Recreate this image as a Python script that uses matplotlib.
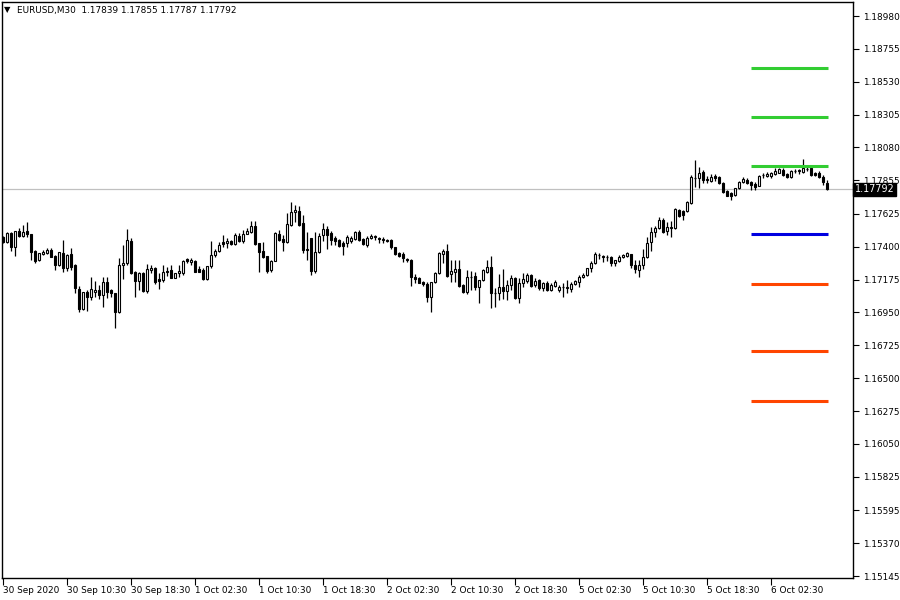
import matplotlib
matplotlib.use("Agg")
import matplotlib.pyplot as plt
from matplotlib.patches import Rectangle

# EURUSD M30 candles, 30 Sep 2020 .. 6 Oct 2020
opens = [
    1.17467, 1.17433, 1.17494, 1.17398, 1.17508, 1.17474, 1.17508, 1.17487, 1.17371, 1.17309,
    1.17350, 1.17357, 1.17378, 1.17337, 1.17275, 1.17357, 1.17255, 1.17350, 1.17275, 1.17111,
    1.16974, 1.17090, 1.17056, 1.17090, 1.17104, 1.17070, 1.17159, 1.17104, 1.17083, 1.16953,
    1.17275, 1.17289, 1.17439, 1.17227, 1.17165, 1.17221, 1.17097, 1.17241, 1.17255, 1.17180,
    1.17172, 1.17234, 1.17241, 1.17186, 1.17221, 1.17221, 1.17316, 1.17296, 1.17303, 1.17248,
    1.17241, 1.17180, 1.17268, 1.17344, 1.17371, 1.17433, 1.17426, 1.17439, 1.17419, 1.17474,
    1.17439, 1.17487, 1.17501, 1.17542, 1.17426, 1.17371, 1.17337, 1.17241, 1.17303, 1.17487,
    1.17453, 1.17433, 1.17549, 1.17638, 1.17645, 1.17563, 1.17385, 1.17460, 1.17234, 1.17364,
    1.17480, 1.17521, 1.17494, 1.17460, 1.17446, 1.17426, 1.17426, 1.17439, 1.17453, 1.17501,
    1.17453, 1.17412, 1.17460, 1.17467, 1.17460, 1.17453, 1.17446, 1.17446, 1.17398, 1.17357,
    1.17350, 1.17316, 1.17309, 1.17193, 1.17186, 1.17159, 1.17145, 1.17056, 1.17159, 1.17221,
    1.17350, 1.17371, 1.17214, 1.17227, 1.17248, 1.17138, 1.17090, 1.17193, 1.17200, 1.17124,
    1.17172, 1.17227, 1.17262, 1.17083, 1.17083, 1.17124, 1.17097, 1.17138, 1.17186, 1.17049,
    1.17152, 1.17165, 1.17207, 1.17138, 1.17172, 1.17118, 1.17152, 1.17104, 1.17131, 1.17104,
    1.17124, 1.17118, 1.17111, 1.17145, 1.17159, 1.17193, 1.17207, 1.17255, 1.17289, 1.17344,
    1.17337, 1.17330, 1.17330, 1.17289, 1.17303, 1.17330, 1.17337, 1.17350, 1.17275, 1.17241,
    1.17275, 1.17330, 1.17433, 1.17501, 1.17528, 1.17583, 1.17508, 1.17528, 1.17528, 1.17652,
    1.17645, 1.17645, 1.17699, 1.17870, 1.17870, 1.17912, 1.17864, 1.17850, 1.17884, 1.17877,
    1.17836, 1.17782, 1.17768, 1.17754, 1.17802, 1.17843, 1.17857, 1.17843, 1.17829, 1.17816,
    1.17891, 1.17884, 1.17884, 1.17898, 1.17905, 1.17925, 1.17898, 1.17877, 1.17919, 1.17919,
    1.17912, 1.17932, 1.17939, 1.17905, 1.17905, 1.17877, 1.17839,
]
highs = [
    1.17474, 1.17501, 1.17501, 1.17508, 1.17528, 1.17549, 1.17569, 1.17487, 1.17378, 1.17357,
    1.17378, 1.17392, 1.17392, 1.17344, 1.17364, 1.17446, 1.17350, 1.17392, 1.17282, 1.17131,
    1.17090, 1.17104, 1.17193, 1.17165, 1.17138, 1.17193, 1.17193, 1.17111, 1.17083, 1.17323,
    1.17412, 1.17521, 1.17460, 1.17234, 1.17227, 1.17227, 1.17282, 1.17275, 1.17262, 1.17221,
    1.17275, 1.17262, 1.17275, 1.17221, 1.17275, 1.17309, 1.17323, 1.17323, 1.17309, 1.17268,
    1.17255, 1.17268, 1.17439, 1.17385, 1.17433, 1.17480, 1.17460, 1.17446, 1.17494, 1.17494,
    1.17515, 1.17528, 1.17576, 1.17576, 1.17426, 1.17433, 1.17337, 1.17309, 1.17501, 1.17515,
    1.17480, 1.17631, 1.17706, 1.17686, 1.17679, 1.17617, 1.17501, 1.17460, 1.17501, 1.17494,
    1.17563, 1.17542, 1.17508, 1.17474, 1.17453, 1.17439, 1.17480, 1.17474, 1.17508, 1.17515,
    1.17460, 1.17474, 1.17487, 1.17480, 1.17467, 1.17467, 1.17453, 1.17453, 1.17398, 1.17364,
    1.17364, 1.17323, 1.17316, 1.17214, 1.17193, 1.17165, 1.17159, 1.17159, 1.17227, 1.17364,
    1.17385, 1.17419, 1.17309, 1.17309, 1.17309, 1.17145, 1.17241, 1.17234, 1.17227, 1.17172,
    1.17248, 1.17309, 1.17337, 1.17118, 1.17214, 1.17248, 1.17172, 1.17207, 1.17193, 1.17186,
    1.17221, 1.17221, 1.17214, 1.17186, 1.17180, 1.17159, 1.17165, 1.17152, 1.17172, 1.17138,
    1.17152, 1.17172, 1.17159, 1.17172, 1.17207, 1.17221, 1.17255, 1.17303, 1.17364, 1.17357,
    1.17344, 1.17344, 1.17337, 1.17309, 1.17344, 1.17350, 1.17364, 1.17350, 1.17309, 1.17309,
    1.17385, 1.17467, 1.17535, 1.17542, 1.17604, 1.17597, 1.17569, 1.17576, 1.17665, 1.17658,
    1.17652, 1.17713, 1.17891, 1.17994, 1.17946, 1.17925, 1.17884, 1.17898, 1.17898, 1.17884,
    1.17843, 1.17788, 1.17775, 1.17802, 1.17850, 1.17877, 1.17870, 1.17850, 1.17843, 1.17891,
    1.17905, 1.17912, 1.17912, 1.17939, 1.17939, 1.17939, 1.17905, 1.17925, 1.17932, 1.17932,
    1.18001, 1.17946, 1.17939, 1.17912, 1.17919, 1.17891, 1.17855,
]
lows = [
    1.17426, 1.17426, 1.17371, 1.17337, 1.17467, 1.17467, 1.17467, 1.17309, 1.17289, 1.17303,
    1.17344, 1.17350, 1.17330, 1.17241, 1.17268, 1.17227, 1.17234, 1.17241, 1.17083, 1.16953,
    1.16967, 1.16960, 1.17035, 1.17056, 1.17042, 1.16987, 1.17049, 1.17056, 1.16844, 1.16946,
    1.17180, 1.17275, 1.17214, 1.17056, 1.17104, 1.17090, 1.17083, 1.17221, 1.17145, 1.17111,
    1.17159, 1.17200, 1.17186, 1.17186, 1.17193, 1.17207, 1.17289, 1.17275, 1.17227, 1.17227,
    1.17172, 1.17172, 1.17255, 1.17330, 1.17364, 1.17398, 1.17392, 1.17412, 1.17412, 1.17433,
    1.17426, 1.17487, 1.17494, 1.17412, 1.17227, 1.17323, 1.17221, 1.17227, 1.17303, 1.17439,
    1.17371, 1.17426, 1.17542, 1.17569, 1.17542, 1.17357, 1.17309, 1.17207, 1.17221, 1.17357,
    1.17439, 1.17385, 1.17412, 1.17412, 1.17398, 1.17344, 1.17398, 1.17426, 1.17446, 1.17439,
    1.17412, 1.17398, 1.17453, 1.17446, 1.17426, 1.17426, 1.17433, 1.17385, 1.17344, 1.17330,
    1.17296, 1.17296, 1.17131, 1.17152, 1.17152, 1.17131, 1.17022, 1.16953, 1.17152, 1.17214,
    1.17289, 1.17193, 1.17159, 1.17159, 1.17124, 1.17083, 1.17076, 1.17104, 1.17104, 1.17015,
    1.17165, 1.17221, 1.16981, 1.16987, 1.17035, 1.17042, 1.17035, 1.17104, 1.17042, 1.17015,
    1.17124, 1.17152, 1.17124, 1.17124, 1.17104, 1.17097, 1.17097, 1.17097, 1.17124, 1.17090,
    1.17056, 1.17083, 1.17090, 1.17138, 1.17124, 1.17186, 1.17200, 1.17227, 1.17282, 1.17316,
    1.17296, 1.17303, 1.17268, 1.17268, 1.17296, 1.17323, 1.17330, 1.17255, 1.17221, 1.17193,
    1.17248, 1.17323, 1.17371, 1.17467, 1.17521, 1.17494, 1.17480, 1.17467, 1.17521, 1.17604,
    1.17583, 1.17638, 1.17692, 1.17809, 1.17802, 1.17836, 1.17836, 1.17843, 1.17850, 1.17829,
    1.17768, 1.17747, 1.17720, 1.17747, 1.17795, 1.17836, 1.17829, 1.17788, 1.17788, 1.17816,
    1.17870, 1.17877, 1.17870, 1.17891, 1.17905, 1.17884, 1.17870, 1.17870, 1.17905, 1.17898,
    1.17905, 1.17919, 1.17884, 1.17884, 1.17870, 1.17823, 1.17787,
]
closes = [
    1.17433, 1.17494, 1.17398, 1.17508, 1.17474, 1.17501, 1.17487, 1.17364, 1.17303, 1.17357,
    1.17364, 1.17378, 1.17330, 1.17275, 1.17364, 1.17255, 1.17344, 1.17262, 1.17118, 1.16974,
    1.17090, 1.17056, 1.17111, 1.17104, 1.17070, 1.17159, 1.17090, 1.17083, 1.16953, 1.17275,
    1.17289, 1.17446, 1.17221, 1.17165, 1.17221, 1.17097, 1.17248, 1.17255, 1.17159, 1.17165,
    1.17227, 1.17227, 1.17186, 1.17221, 1.17234, 1.17303, 1.17303, 1.17309, 1.17227, 1.17227,
    1.17180, 1.17268, 1.17344, 1.17371, 1.17412, 1.17419, 1.17439, 1.17419, 1.17480, 1.17439,
    1.17487, 1.17508, 1.17542, 1.17419, 1.17364, 1.17330, 1.17234, 1.17303, 1.17494, 1.17446,
    1.17433, 1.17556, 1.17638, 1.17652, 1.17549, 1.17378, 1.17378, 1.17234, 1.17364, 1.17474,
    1.17521, 1.17480, 1.17446, 1.17439, 1.17405, 1.17405, 1.17467, 1.17460, 1.17501, 1.17446,
    1.17419, 1.17460, 1.17474, 1.17474, 1.17453, 1.17446, 1.17439, 1.17398, 1.17350, 1.17337,
    1.17323, 1.17309, 1.17193, 1.17180, 1.17152, 1.17145, 1.17056, 1.17159, 1.17221, 1.17357,
    1.17371, 1.17200, 1.17234, 1.17248, 1.17131, 1.17090, 1.17193, 1.17193, 1.17124, 1.17172,
    1.17241, 1.17262, 1.17083, 1.17083, 1.17124, 1.17097, 1.17138, 1.17186, 1.17049, 1.17152,
    1.17180, 1.17207, 1.17131, 1.17165, 1.17118, 1.17152, 1.17104, 1.17138, 1.17159, 1.17124,
    1.17124, 1.17124, 1.17145, 1.17165, 1.17193, 1.17207, 1.17255, 1.17289, 1.17350, 1.17344,
    1.17330, 1.17330, 1.17289, 1.17309, 1.17330, 1.17344, 1.17357, 1.17275, 1.17248, 1.17275,
    1.17330, 1.17426, 1.17501, 1.17528, 1.17583, 1.17501, 1.17535, 1.17535, 1.17658, 1.17610,
    1.17617, 1.17706, 1.17877, 1.17870, 1.17905, 1.17857, 1.17857, 1.17877, 1.17870, 1.17836,
    1.17775, 1.17747, 1.17747, 1.17802, 1.17843, 1.17864, 1.17836, 1.17823, 1.17809, 1.17884,
    1.17891, 1.17898, 1.17905, 1.17919, 1.17932, 1.17891, 1.17877, 1.17919, 1.17919, 1.17925,
    1.17939, 1.17932, 1.17891, 1.17891, 1.17877, 1.17843, 1.17792,
]

level_prices = [1.18622, 1.18286, 1.17953, 1.17487, 1.17145, 1.16686, 1.16341]
level_colors = ["#32cd32", "#32cd32", "#32cd32", "#0000e0", "#ff4500", "#ff4500", "#ff4500"]

price_ticks = [1.18980, 1.18755, 1.18530, 1.18305, 1.18080, 1.17855, 1.17625, 1.17400,
               1.17175, 1.16950, 1.16725, 1.16500, 1.16275, 1.16050, 1.15825, 1.15595,
               1.15370, 1.15145]
time_labels = ["30 Sep 2020", "30 Sep 10:30", "30 Sep 18:30", "1 Oct 02:30", "1 Oct 10:30",
               "1 Oct 18:30", "2 Oct 02:30", "2 Oct 10:30", "2 Oct 18:30", "5 Oct 02:30",
               "5 Oct 10:30", "5 Oct 18:30", "6 Oct 02:30"]
bid = 1.17792

FONT = "DejaVu Sans"
FS = 6.4

fig = plt.figure(figsize=(9, 6), dpi=100)
ax = fig.add_axes([2 / 900, 22 / 600, 851 / 900, 576 / 600])

n = len(closes)
bw = 0.5
for i in range(n):
    o, h, l, c = opens[i], highs[i], lows[i], closes[i]
    ax.vlines(i, l, h, color="black", lw=0.9, zorder=2)
    if abs(c - o) < 0.000015:
        ax.hlines(o, i - bw / 2, i + bw / 2, color="black", lw=0.9, zorder=3)
    else:
        fc = "white" if c > o else "black"
        ax.add_patch(Rectangle((i - bw / 2, min(o, c)), bw, abs(c - o),
                               facecolor=fc, edgecolor="black", lw=0.8, zorder=3))

# current bid line
ax.axhline(bid, color="#c0c0c0", lw=0.9, zorder=1)

# horizontal levels on the right
for p, col in zip(level_prices, level_colors):
    ax.hlines(p, 186.8, 206.25, color=col, lw=2.2, zorder=4)

ax.set_xlim(-0.33, 212.4)
ax.set_ylim(1.151315, 1.190759)

ax.yaxis.tick_right()
ax.set_yticks(price_ticks)
ax.set_yticklabels([f"{t:.5f}" for t in price_ticks], fontsize=FS, family=FONT)
ax.set_xticks(range(0, 16 * len(time_labels), 16))
ax.set_xticklabels(time_labels, fontsize=FS, family=FONT, ha="left")
ax.tick_params(axis="y", direction="out", length=4, width=0.8, pad=3)
ax.tick_params(axis="x", direction="out", length=5, width=0.8, pad=0.5)
for s in ax.spines.values():
    s.set_linewidth(1.0)
    s.set_color("black")

# bid label box
ax.text(1.002, bid, f"{bid:.5f}", transform=ax.get_yaxis_transform(), ha="left",
        va="center", fontsize=FS + 0.5, family=FONT, color="white", zorder=10,
        bbox=dict(boxstyle="square,pad=0.15", fc="black", ec="black"), clip_on=False)

# title
fig.text(4 / 900, 1 - 10 / 600, "\u25bc", fontsize=6, family=FONT, va="center", ha="left")
fig.text(17 / 900, 1 - 10 / 600, "EURUSD,M30  1.17839 1.17855 1.17787 1.17792",
         fontsize=FS, family=FONT, va="center", ha="left")

fig.savefig("out.png", dpi=100)
